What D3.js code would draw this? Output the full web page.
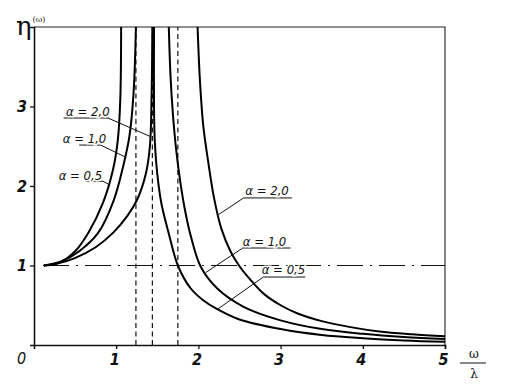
<!DOCTYPE html>
<html>
<head>
<meta charset="utf-8">
<script src="https://cdn.jsdelivr.net/npm/d3@7"></script>
<style>
  body { margin: 0; background: #fff; }
  text { fill: #111; }
</style>
</head>
<body>
<div id="chart"></div>
<script>
// values: [omega/lambda, eta]
const rise05 = [[0.12, 1.0], [0.3, 1.03], [0.5, 1.18], [0.66, 1.41], [0.84, 1.79], [0.96, 2.2], [1.02, 2.58], [1.05, 3.1], [1.06, 4.0]];
const rise10 = [[0.12, 1.0], [0.33, 1.05], [0.55, 1.18], [0.78, 1.41], [0.97, 1.82], [1.09, 2.27], [1.16, 2.62], [1.21, 3.15], [1.24, 4.0]];
const rise20 = [[0.12, 1.0], [0.3, 1.03], [0.49, 1.09], [0.75, 1.23], [0.97, 1.42], [1.14, 1.63], [1.26, 1.84], [1.36, 2.15], [1.41, 2.5], [1.43, 3.1], [1.44, 4.0]];
const fall05 = [[1.46, 4.0], [1.46, 3.0], [1.47, 2.55], [1.5, 2.15], [1.55, 1.78], [1.64, 1.4], [1.75, 1.0], [1.9, 0.72], [2.05, 0.57], [2.23, 0.45], [2.5, 0.32], [3.0, 0.2], [3.5, 0.125], [4.0, 0.085], [4.5, 0.057], [5.0, 0.04]];
const fall10 = [[1.64, 4.0], [1.66, 3.4], [1.69, 2.9], [1.73, 2.45], [1.78, 2.05], [1.84, 1.68], [1.91, 1.36], [2.03, 0.98], [2.23, 0.71], [2.55, 0.48], [3.0, 0.31], [3.5, 0.2], [4.0, 0.14], [4.5, 0.1], [5.0, 0.075]];
const fall20 = [[1.99, 4.0], [2.02, 3.3], [2.06, 2.75], [2.12, 2.3], [2.19, 1.85], [2.28, 1.46], [2.39, 1.18], [2.5, 0.99], [2.65, 0.8], [2.8, 0.64], [3.0, 0.5], [3.2, 0.4], [3.5, 0.3], [3.85, 0.225], [4.2, 0.17], [4.6, 0.135], [5.0, 0.11]];

const curves = [rise05, rise10, rise20, fall05, fall10, fall20];
const dashedX = [1.24, 1.44, 1.75];
const unitLevel = 1;
const xTicks = [1, 2, 3, 4, 5];
const yTicks = [1, 2, 3];
const labels = ['α = 0,5', 'α = 1,0', 'α = 2,0'];

// label placement (text, underline, leader end) in data units
const notes = [
  { text: labels[2], tx: 0.39, ty: 2.88, u0: 0.36, u1: 0.9, uy: 2.855, px: 1.42, py: 2.62 },
  { text: labels[1], tx: 0.35, ty: 2.54, u0: 0.55, u1: 0.81, uy: 2.515, px: 1.12, py: 2.36 },
  { text: labels[0], tx: 0.30, ty: 2.075, u0: 0.63, u1: 0.84, uy: 2.06, px: 0.9, py: 2.025 },
  { text: labels[2], tx: 2.57, ty: 1.89, u0: 2.55, u1: 3.14, uy: 1.85, px: 2.245, py: 1.64 },
  { text: labels[1], tx: 2.54, ty: 1.245, u0: 2.54, u1: 3.12, uy: 1.22, px: 2.087, py: 0.91 },
  { text: labels[0], tx: 2.77, ty: 0.89, u0: 2.79, u1: 3.3, uy: 0.855, px: 2.233, py: 0.45 },
];

const dims = { width: 506, height: 390, margin: { top: 27, right: 61, bottom: 45, left: 34 } };
dims.ctrWidth = dims.width - dims.margin.left - dims.margin.right;
dims.ctrHeight = dims.height - dims.margin.top - dims.margin.bottom;

const svg = d3.select('#chart').append('svg')
  .attr('width', dims.width)
  .attr('height', dims.height);

const ctr = svg.append('g')
  .attr('transform', `translate(${dims.margin.left}, ${dims.margin.top})`);

const xScale = d3.scaleLinear().domain([0, 5]).range([0, dims.ctrWidth]);
const yScale = d3.scaleLinear().domain([0, 4]).range([dims.ctrHeight, 0]);

const tickFont = '"Liberation Sans Narrow", "DejaVu Sans Condensed", sans-serif';

ctr.append('clipPath').attr('id', 'plot')
  .append('rect').attr('width', dims.ctrWidth).attr('height', dims.ctrHeight);

// frame top + right
ctr.append('path')
  .attr('d', `M0,0H${dims.ctrWidth}V${dims.ctrHeight}`)
  .attr('fill', 'none').attr('stroke', '#222').attr('stroke-width', 1.1);

// dashed verticals
ctr.selectAll('.vdash').data(dashedX).join('line')
  .attr('x1', d => xScale(d)).attr('x2', d => xScale(d))
  .attr('y1', yScale(0)).attr('y2', yScale(4))
  .attr('stroke', '#111').attr('stroke-width', 1.2)
  .attr('stroke-dasharray', '5,3.5');

// dash-dot line at eta = 1
ctr.append('line')
  .attr('x1', xScale(0.11)).attr('x2', xScale(5))
  .attr('y1', yScale(unitLevel)).attr('y2', yScale(unitLevel))
  .attr('stroke', '#111').attr('stroke-width', 1.2)
  .attr('stroke-dasharray', '26,7,2,7');

// curves
const line = d3.line()
  .x(d => xScale(d[0]))
  .y(d => yScale(d[1]))
  .curve(d3.curveCatmullRom.alpha(0.5));

ctr.append('g').attr('clip-path', 'url(#plot)')
  .selectAll('path').data(curves).join('path')
  .attr('d', line)
  .attr('fill', 'none').attr('stroke', '#000').attr('stroke-width', 2);

// axes
const xAxis = d3.axisBottom(xScale).tickValues(xTicks).tickSize(4).tickPadding(5).tickFormat(d3.format('d'));
const yAxis = d3.axisLeft(yScale).tickValues(yTicks).tickSize(4).tickPadding(3).tickFormat(d3.format('d'));

const xAxisGroup = ctr.append('g').call(xAxis)
  .attr('transform', `translate(0, ${dims.ctrHeight})`);
const yAxisGroup = ctr.append('g').call(yAxis);

[xAxisGroup, yAxisGroup].forEach(g => {
  g.select('.domain').attr('stroke', '#111').attr('stroke-width', 1.6);
  g.selectAll('.tick line').attr('stroke', '#111').attr('stroke-width', 1.3);
  g.selectAll('.tick text')
    .attr('fill', '#111')
    .style('font-family', tickFont)
    .style('font-style', 'italic')
    .style('font-weight', 'bold')
    .style('font-size', '16px');
});
xAxisGroup.selectAll('.tick text').attr('dx', '-2');

// origin label
ctr.append('text')
  .attr('x', xScale(0) - 17).attr('y', yScale(0) + 19)
  .style('font-family', tickFont).style('font-style', 'italic')
  .style('font-size', '16px')
  .text('0');

// y label eta^(omega)
const yLabel = svg.append('text')
  .attr('x', 16).attr('y', 35)
  .style('font-family', '"DejaVu Serif", serif')
  .style('font-size', '26px');
yLabel.append('tspan').text('η');
yLabel.append('tspan').attr('dy', -13).attr('dx', 1).style('font-size', '8px').text('(ω)');

// x label omega / lambda
const xl = xScale(5) + 29;
ctr.append('text')
  .attr('x', xl).attr('y', dims.ctrHeight + 13)
  .attr('text-anchor', 'middle')
  .style('font-family', '"DejaVu Serif", serif').style('font-size', '12px')
  .text('ω');
ctr.append('line')
  .attr('x1', xl - 14).attr('x2', xl + 12)
  .attr('y1', dims.ctrHeight + 18).attr('y2', dims.ctrHeight + 18)
  .attr('stroke', '#111').attr('stroke-width', 1);
ctr.append('text')
  .attr('x', xl).attr('y', dims.ctrHeight + 33)
  .attr('text-anchor', 'middle')
  .style('font-family', '"DejaVu Serif", serif').style('font-size', '12px')
  .text('λ');

// alpha labels with underline and leader
const noteG = ctr.selectAll('.note').data(notes).join('g');
noteG.append('path')
  .attr('d', d => `M${xScale(d.u0)},${yScale(d.uy)}H${xScale(d.u1)}`
    + `M${xScale(d.px)},${yScale(d.py)}L${xScale(d.px < d.u0 ? d.u0 : d.u1)},${yScale(d.uy)}`)
  .attr('fill', 'none').attr('stroke', '#111').attr('stroke-width', 1);
noteG.append('text')
  .attr('x', d => xScale(d.tx)).attr('y', d => yScale(d.ty))
  .style('font-family', tickFont)
  .style('font-style', 'italic')
  .style('font-size', '13px')
  .attr('stroke', '#fff').attr('stroke-width', 3).attr('paint-order', 'stroke')
  .text(d => d.text);
</script>
</body>
</html>
